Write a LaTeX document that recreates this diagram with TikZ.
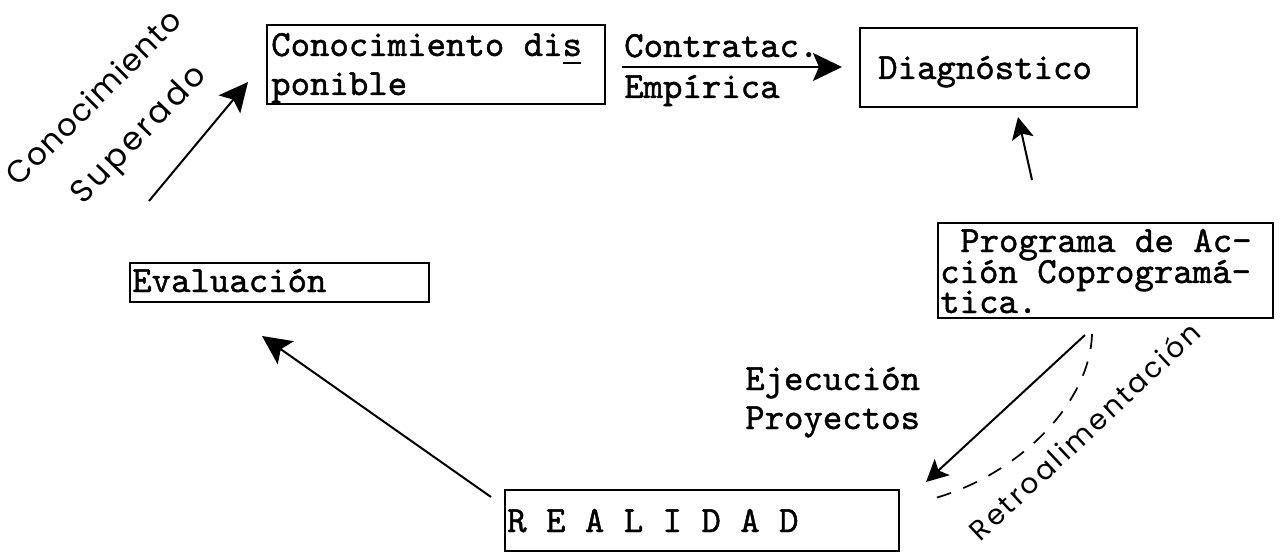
\documentclass[tikz,border=0pt]{standalone}
\usepackage{fontspec}
\newfontfamily\handfont{Poppins}
\newfontfamily\twfont{lmmono10-regular}[Extension=.otf, FakeBold=1.2]
\usetikzlibrary{arrows.meta}
\newcommand{\ulchar}[1]{#1\llap{\rule[-8.5pt]{18pt}{2.2pt}\hspace{0.8pt}}}
\begin{document}
\begin{tikzpicture}[x=1pt,y=-1pt,
  tw/.style={font=\fontsize{37}{40}\selectfont\twfont, inner sep=0pt, anchor=base west},
  box/.style={draw, line width=2.4pt, inner sep=0pt, anchor=north west},
  arr/.style={line width=2pt, -{Stealth[length=29pt,width=28pt,inset=6pt]}},
  sarr/.style={line width=2pt, -{Stealth[length=22pt,width=22pt,inset=5pt]}},
  handw/.style={inner sep=0pt, anchor=center},
  fb/.style={line width=1.7pt, dash pattern=on 15pt off 13pt}
]
\fill[white] (0,0) rectangle (1280,556);
\useasboundingbox (0,0) rectangle (1280,556);

% boxes
\node[box, minimum width=338pt, minimum height=79pt] (con) at (266,24) {};
\node[box, minimum width=277pt, minimum height=79pt] (diag) at (859,27) {};
\node[box, minimum width=335pt, minimum height=95pt] (prog) at (937,222) {};
\node[box, minimum width=299pt, minimum height=39pt] (eval) at (129,262) {};
\node[box, minimum width=394pt, minimum height=61pt] (real) at (504,489) {};

% typed texts
\node[tw] (con-a) at (271,56) {Conocimiento di\ulchar{s}};
\node[tw] (con-b) at (271,95) {ponible};
\node[tw] (ct-a) at (624,57) {Contratac.};
\node[tw] (ct-b) at (624,98) {Empírica};
\node[tw] (diag-t) at (878,79) {Diagnóstico};
\node[tw] (prog-a) at (960,252) {Programa de Ac-};
\node[tw] (prog-b) at (940,283) {ción Coprogramá-};
\node[tw] (prog-c) at (940,313) {tica.};
\node[tw] (eval-t) at (132,292) {Evaluación};
\node[tw] (real-t) at (507,532) {R E A L I D A D};
\node[tw] (eje-a) at (745,390) {Ejecución};
\node[tw] (eje-b) at (745,429) {Proyectos};

% handwritten texts
\node[handw, rotate=45, font={\fontsize{31}{31}\selectfont\handfont\addfontfeature{LetterSpace=4}}] (cs-a) at (93,97) {Conocimiento};
\node[handw, rotate=46, font={\fontsize{32}{32}\selectfont\handfont\addfontfeature{LetterSpace=10}}] (cs-b) at (140,136) {Superado};
\node[handw, rotate=43, font={\fontsize{28}{28}\selectfont\handfont\addfontfeature{LetterSpace=10}}] (retro) at (1084,431) {Retroalimentación};

% connector ends
\coordinate (a1s) at (622,67);
\coordinate (a1e) at (842,67);
\coordinate (a2s) at (1032,180);
\coordinate (a2e) at (1018,117);
\coordinate (a3s) at (1085,335);
\coordinate (a3e) at (926,482);
\coordinate (a4s) at (491,497);
\coordinate (a4e) at (262,336);
\coordinate (a5s) at (149,201);
\coordinate (a5e) at (248,82);
\coordinate (fbs) at (1092,334);
\coordinate (fbe) at (928,500);

\draw[arr] (a1s) -- (a1e);
\draw[sarr] (a2s) -- (a2e);
\draw[sarr] (a3s) -- (a3e);
\draw[arr] (a4s) -- (a4e);
\draw[arr] (a5s) -- (a5e);
\draw[fb] (fbs) .. controls (1090,405) and (1015,478) .. (fbe);
\end{tikzpicture}
\end{document}
